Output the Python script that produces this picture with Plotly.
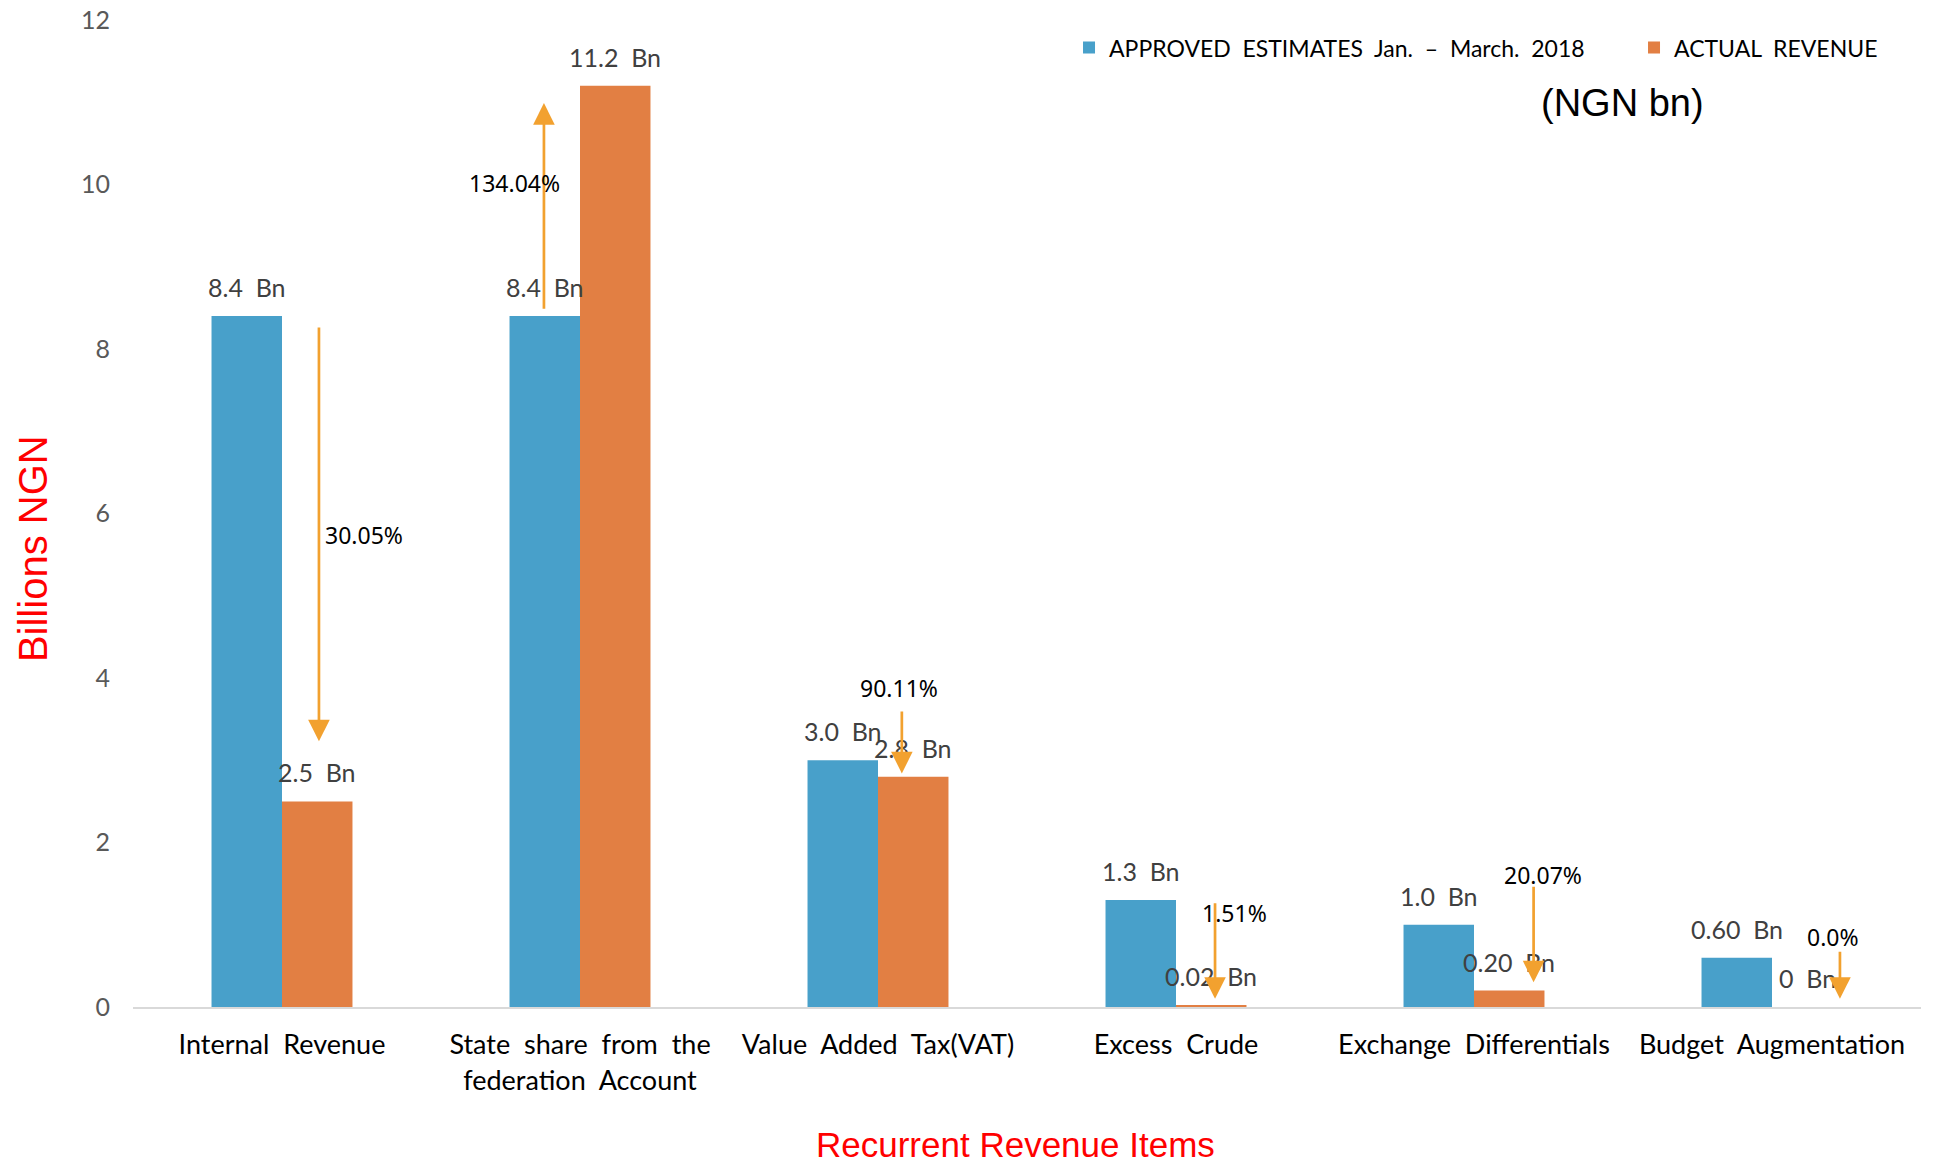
import plotly.graph_objects as go

# Recurrent revenue, Jan - March 2018 (billions of naira)
categories = [
    "Internal Revenue",
    "State share from the federation Account",
    "Value Added Tax(VAT)",
    "Excess Crude",
    "Exchange Differentials",
    "Budget Augmentation",
]
tick_labels = [
    "Internal Revenue",
    "State share from the<br>federation Account",
    "Value Added Tax(VAT)",
    "Excess Crude",
    "Exchange Differentials",
    "Budget Augmentation",
]
approved = [8.4, 8.4, 3.0, 1.3, 1.0, 0.60]
approved_decimals = [1, 1, 1, 1, 1, 2]
actual = [2.5, 11.2, 2.8, 0.02, 0.20, 0]
actual_decimals = [1, 1, 1, 2, 2, 0]
performance_pct = [30.05, 134.04, 90.11, 1.51, 20.07, 0.0]
performance_decimals = [2, 2, 2, 2, 2, 1]
y_ticks = [0, 2, 4, 6, 8, 10, 12]

# performance arrows: horizontal offset from category centre, tail and head heights
arrow_dx = [0.124, -0.121, 0.08, 0.131, 0.2, 0.228]
arrow_tail = [8.28, 8.47, 3.61, 1.28, 1.48, 0.69]
arrow_head = [3.23, 10.99, 2.84, 0.10, 0.30, 0.10]
# percentage label placement
pct_dx = [0.138, -0.221, 0.07, 0.195, 0.23, 0.205]
pct_y = [5.74, 10.02, 3.88, 1.14, 1.60, 0.855]
pct_anchor = ["left", "center", "center", "center", "center", "center"]

BLUE = "#48A0CA"
ORANGE = "#E27F43"
ARROW = "#F2A12F"
LABEL_FONT = "Lato, 'Open Sans', sans-serif"
TITLE_FONT = "'Liberation Sans', Arial, sans-serif"
BAR_GAP = 0.527


def wide(s):
    """Widen word gaps the way the chart's typeface sets them."""
    return s.replace(" ", "\u00a0\u00a0")


def bn(value, decimals):
    return wide(f"{value:.{decimals}f} Bn")


fig = go.Figure()
fig.add_trace(go.Bar(
    x=categories, y=approved, name=wide("APPROVED ESTIMATES Jan. – March. 2018"),
    marker=dict(color=BLUE, line=dict(width=0)),
))
fig.add_trace(go.Bar(
    x=categories, y=actual, name=wide("ACTUAL REVENUE"),
    marker=dict(color=ORANGE, line=dict(width=0)),
))

annotations = []
# value labels above each bar; bar centres sit a quarter of the group width off the category
half_bar = (1 - BAR_GAP) / 4
for i in range(len(categories)):
    for series, decimals, side in ((approved, approved_decimals, -1),
                                   (actual, actual_decimals, 1)):
        annotations.append(dict(
            x=i + side * half_bar, y=series[i], xref="x", yref="y",
            text=bn(series[i], decimals[i]), showarrow=False,
            xanchor="center", yanchor="middle", yshift=29,
            font=dict(family=LABEL_FONT, size=25, color="#404040"),
        ))

for i in range(len(categories)):
    annotations.append(dict(
        x=i + arrow_dx[i], y=arrow_head[i], ax=i + arrow_dx[i], ay=arrow_tail[i],
        xref="x", yref="y", axref="x", ayref="y", text="", showarrow=True,
        arrowhead=2, arrowsize=1.6, arrowwidth=2.7, arrowcolor=ARROW,
    ))
    annotations.append(dict(
        x=i + pct_dx[i], y=pct_y[i], xref="x", yref="y", showarrow=False,
        text=f"{performance_pct[i]:.{performance_decimals[i]}f}%",
        xanchor=pct_anchor[i], yanchor="middle",
        font=dict(family="'Noto Sans', 'Open Sans', sans-serif", size=23, color="#000000"),
    ))

# axis titles and unit note
annotations.append(dict(
    text="Billions NGN", xref="paper", yref="paper", x=-0.0559, y=0.464,
    textangle=-90, showarrow=False, xanchor="center", yanchor="middle",
    font=dict(family=TITLE_FONT, size=40, color="#FF0000"),
))
annotations.append(dict(
    text="Recurrent Revenue Items", xref="paper", yref="paper", x=0.4933, y=-0.1398,
    showarrow=False, xanchor="center", yanchor="middle",
    font=dict(family=TITLE_FONT, size=35, color="#FF0000"),
))
annotations.append(dict(
    text="(NGN bn)", xref="paper", yref="paper", x=0.8328, y=0.916,
    showarrow=False, xanchor="center", yanchor="middle",
    font=dict(family=TITLE_FONT, size=38, color="#000000"),
))

fig.update_layout(
    width=1933, height=1163,
    margin=dict(l=133, r=12, t=20, b=156, autoexpand=False),
    plot_bgcolor="white", paper_bgcolor="white",
    barmode="group", bargap=BAR_GAP, bargroupgap=0,
    font=dict(family=LABEL_FONT, color="#000000"),
    legend=dict(
        orientation="h", x=0.5235, y=0.972, xanchor="left", yanchor="middle",
        font=dict(family=LABEL_FONT, size=23, color="#000000"),
        entrywidth=520, entrywidthmode="pixels", bgcolor="rgba(0,0,0,0)",
    ),
    annotations=annotations,
)
fig.update_xaxes(
    range=[-0.5, 5.5], tickvals=categories, ticktext=[wide(t) for t in tick_labels],
    tickangle=0,
    showline=True, linecolor="#D9D9D9", linewidth=2, showgrid=False, zeroline=False,
    ticks="", ticklabelstandoff=13,
    tickfont=dict(family=LABEL_FONT, size=27, color="#000000"),
    automargin=False,
)
fig.update_yaxes(
    range=[0, 12], tickvals=y_ticks, showgrid=False, zeroline=False, showline=False,
    ticks="", ticklabelstandoff=22,
    tickfont=dict(family=LABEL_FONT, size=25, color="#595959"),
    automargin=False,
)

fig.write_html("out.html")
